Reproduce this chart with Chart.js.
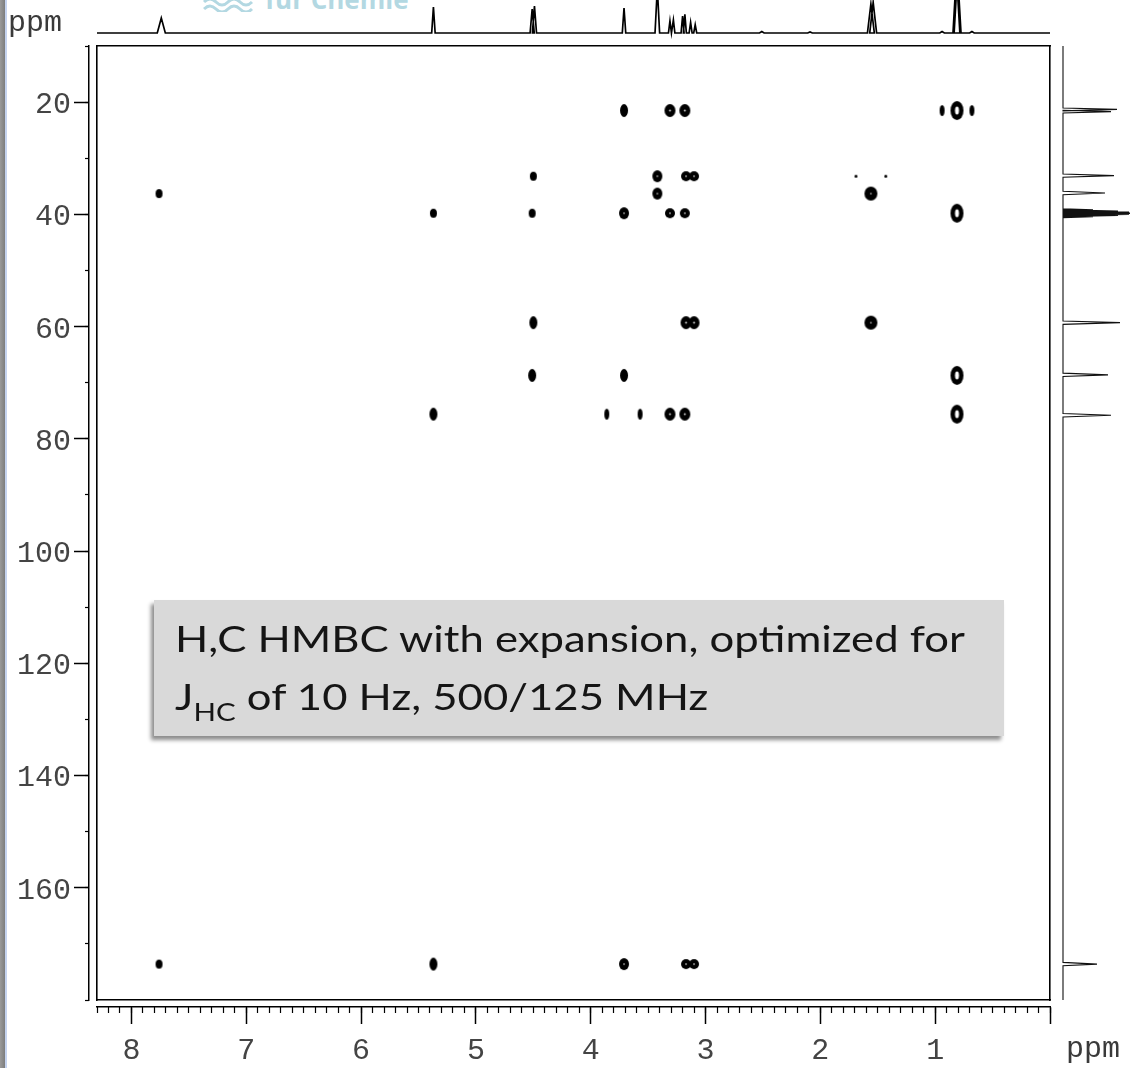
<!DOCTYPE html>
<html><head><meta charset="utf-8">
<script src="https://cdn.jsdelivr.net/npm/chart.js@4.4.1/dist/chart.umd.min.js"></script>
<style>
html,body{margin:0;padding:0;background:#fff;}
#wrap{position:relative;width:1130px;height:1068px;overflow:hidden;background:#fff;}
canvas{position:absolute;left:0;top:0;}
#stripe{position:absolute;left:0;top:0;width:5px;height:1068px;background:linear-gradient(90deg,#9a9a9a,#7d7d7d);}
#stripe2{position:absolute;left:5px;top:0;width:2px;height:1068px;background:#c5d3ef;}
.ppm{position:absolute;font-family:"Liberation Mono",monospace;font-size:30px;color:#3a3a3a;line-height:30px;white-space:nowrap;}
#logo{position:absolute;left:265px;top:-19px;font-family:"Open Sans",sans-serif;font-weight:700;font-size:26px;color:#b3d8e2;white-space:nowrap;}
#note{position:absolute;left:154px;top:600px;width:850px;height:136px;background:#d9d9d9;box-shadow:-3px 4px 4px rgba(0,0,0,0.45);}
.nl{position:absolute;left:21px;font-family:Lato,"Open Sans",sans-serif;font-size:37px;line-height:36px;color:#151515;white-space:nowrap;transform-origin:0 0;display:inline-block;}
.sub{font-size:25px;position:relative;top:11px;}
</style></head><body>
<div id="wrap">
  <div id="stripe"></div><div id="stripe2"></div>
  <svg style="position:absolute;left:203px;top:0" width="52" height="12"><path d="M1 2 q6 -6 12 0 t12 0 t12 0 t12 0" stroke="#b3d8e2" stroke-width="3" fill="none"/><path d="M1 9 q6 -6 12 0 t12 0 t12 0 t12 0" stroke="#b3d8e2" stroke-width="3" fill="none"/></svg>
  <div id="logo">für Chemie</div>
  <canvas id="topc" width="1130" height="1068"></canvas>
  <canvas id="rightc" width="1130" height="1068"></canvas>
  <canvas id="mainc" width="1130" height="1068"></canvas>
  <div class="ppm" style="left:8px;top:8px">ppm</div>
  <div class="ppm" style="left:1066px;top:1034px">ppm</div>
  <div id="note">
    <span class="nl" id="l1" style="top:20px">H,C HMBC with expansion, optimized for</span>
    <span class="nl" id="l2" style="top:78px">J<span class="sub">HC</span> of 10 Hz, 500/125 MHz</span>
  </div>
</div>
<script>
// ---- axis tick labels ----
const xTickLabels = [8, 7, 6, 5, 4, 3, 2, 1];
const yTickLabels = [20, 40, 60, 80, 100, 120, 140, 160];

// ---- HMBC cross peaks (1H ppm, 13C ppm), grouped by contour look ----
const tallH = [3.71, 3.71, 5.37, 4.50, 4.51, 5.37];
const tallC = [21.5, 68.7, 75.6, 59.3, 68.7, 173.6];
const midH = [3.42, 3.42, 3.71, 3.71];
const midC = [33.2, 36.3, 39.8, 173.6];
const smallH = [4.50, 7.76, 5.37, 4.51, 7.76];
const smallC = [33.2, 36.3, 39.8, 39.8, 173.6];
const thinH = [3.86, 3.57, 0.94, 0.68];
const thinC = [75.6, 75.6, 21.5, 21.5];
const pairH = [3.31, 3.18, 3.31, 3.18, 3.17, 3.10];
const pairC = [21.5, 21.5, 75.6, 75.6, 59.3, 59.3];
const pairSmallH = [3.17, 3.10, 3.31, 3.18, 3.17, 3.10];
const pairSmallC = [33.2, 33.2, 39.8, 39.8, 173.6, 173.6];
const ringH = [0.81, 0.81, 0.81, 0.81];
const ringC = [21.5, 39.8, 68.7, 75.6];
const roundH = [1.56, 1.56];
const roundC = [36.3, 59.3];
const dotH = [1.69, 1.43];
const dotC = [33.2, 33.2];

// ---- 1H projection (top): peak ppm, intensity, half base width (ppm) ----
const h1Ppm = [7.74, 5.37, 4.51, 4.49, 3.71, 3.42, 3.31, 3.28, 3.20, 3.18, 3.13, 3.09, 2.51, 2.09, 1.56, 1.54, 0.94, 0.815, 0.805, 0.68];
const h1Int = [15, 26, 24, 27, 25, 45, 12, 13, 17, 18.6, 10.6, 8.3, 1.5, 1, 29, 30.6, 1.5, 60, 60, 1.5];
const h1Hw  = [0.035, 0.015, 0.018, 0.018, 0.015, 0.02, 0.013, 0.013, 0.013, 0.013, 0.013, 0.013, 0.02, 0.02, 0.03, 0.03, 0.02, 0.03, 0.03, 0.02];

// ---- 13C projection (right): peak ppm, intensity, half base width (ppm) ----
const c13Ppm = [21.3, 21.7, 33.1, 36.2, 39.2, 39.4, 39.6, 39.8, 40.0, 40.2, 40.4, 59.3, 68.6, 75.8, 173.6];
const c13Int = [54, 48, 51, 42, 30, 55, 66, 80, 66, 55, 30, 57, 45, 48, 34];
const c13Hw  = [0.25, 0.25, 0.3, 0.3, 0.2, 0.2, 0.2, 0.2, 0.2, 0.2, 0.2, 0.3, 0.3, 0.3, 0.3];

const MONO = '"Liberation Mono", monospace';
const H_MIN = 0, H_MAX = 8.3, C_MIN = 10, C_MAX = 180;

function blob(w, h, hw, hh) {
  const c = document.createElement('canvas');
  c.width = w + 2; c.height = h + 2;
  const g = c.getContext('2d');
  g.fillStyle = '#000';
  g.beginPath(); g.ellipse(c.width / 2, c.height / 2, w / 2, h / 2, 0, 0, Math.PI * 2); g.fill();
  if (hw) {
    g.fillStyle = '#fff';
    g.beginPath(); g.ellipse(c.width / 2, c.height / 2, hw / 2, hh / 2, 0, 0, Math.PI * 2); g.fill();
  }
  return c;
}
const pts = (H, C) => H.map((h, i) => ({x: h, y: C[i]}));
const groups = [
  [tallH, tallC, blob(8, 13)],
  [midH, midC, blob(10, 12, 1.5, 1.5)],
  [smallH, smallC, blob(7, 9)],
  [thinH, thinC, blob(5, 11)],
  [pairH, pairC, blob(11, 13, 1.6, 2)],
  [pairSmallH, pairSmallC, blob(10, 10, 1.6, 1.6)],
  [ringH, ringC, blob(13, 19, 4, 8)],
  [roundH, roundC, blob(13, 14, 1.5, 1.5)],
  [dotH, dotC, blob(3, 3)]
];

function gapAxis(pos, weight, size, isX) {
  return {
    type: 'linear', display: true, position: pos, weight,
    min: isX ? H_MIN : C_MIN, max: isX ? H_MAX : C_MAX, reverse: true,
    grid: {display: false, drawOnChartArea: false, drawTicks: false},
    border: {display: true, color: '#000', width: 1.6},
    ticks: {display: false},
    afterFit: s => { if (isX) s.height = size; else s.width = size; }
  };
}

new Chart(document.getElementById('mainc'), {
  type: 'scatter',
  data: {datasets: groups.map(g => ({data: pts(g[0], g[1]), pointStyle: g[2], pointRadius: 6, pointHoverRadius: 6}))},
  options: {
    responsive: false, animation: false, events: [],
    plugins: {legend: {display: false}, tooltip: {enabled: false}},
    layout: {padding: {left: 0, right: 80, top: 46, bottom: 0}},
    scales: {
      x: {
        type: 'linear', position: 'bottom', weight: 2, min: H_MIN, max: H_MAX, reverse: true,
        afterBuildTicks: s => { s.ticks = [0, ...xTickLabels].sort((a, b) => a - b).map(v => ({value: v})); },
        grid: {display: true, drawOnChartArea: false, drawTicks: true, tickLength: 17, tickWidth: 1.5, tickColor: '#000'},
        border: {display: true, color: '#000', width: 1.5},
        ticks: {autoSkip: false, maxRotation: 0, padding: 9, color: '#444', font: {family: MONO, size: 30},
          callback: v => xTickLabels.includes(v) ? String(v) : ''},
        afterFit: s => { s.height = 61; }
      },
      xMinor: {
        type: 'linear', display: true, position: 'bottom', weight: 1, min: H_MIN, max: H_MAX, reverse: true,
        grid: {display: true, drawOnChartArea: false, drawTicks: true, tickLength: 6, tickWidth: 1.2, tickColor: '#000'},
        border: {display: false},
        ticks: {display: false, stepSize: 0.1},
        afterFit: s => { s.height = 0; }
      },
      xGap: gapAxis('bottom', 0, 7, true),
      xTop: gapAxis('top', 0, 0, true),
      y: {
        type: 'linear', position: 'left', weight: 2, min: C_MIN, max: C_MAX, reverse: true,
        afterBuildTicks: s => { s.ticks = yTickLabels.map(v => ({value: v})); },
        grid: {display: true, drawOnChartArea: false, drawTicks: true, tickLength: 15, tickWidth: 1.5, tickColor: '#000'},
        border: {display: true, color: '#000', width: 1.5},
        ticks: {autoSkip: false, padding: 3, labelOffset: 3, color: '#444', font: {family: MONO, size: 30},
          callback: v => String(v)},
        afterFit: s => { s.width = 89; }
      },
      yMinor: {
        type: 'linear', display: true, position: 'left', weight: 1, min: C_MIN, max: C_MAX, reverse: true,
        grid: {display: true, drawOnChartArea: false, drawTicks: true, tickLength: 4, tickWidth: 1.2, tickColor: '#000'},
        border: {display: false},
        ticks: {display: false, stepSize: 10},
        afterFit: s => { s.width = 0; }
      },
      yGap: gapAxis('left', 0, 8, false),
      yRight: gapAxis('right', 0, 0, false)
    }
  }
});

// ---- 1D projections ----
function stick(ppm, ints, hws) {
  const out = [];
  ppm.forEach((p, i) => {
    out.push([p + hws[i], 0], [p, ints[i]], [p - hws[i], 0]);
  });
  return out;
}
const topPts = [[H_MAX, 0], ...stick(h1Ppm, h1Int, h1Hw), [H_MIN, 0]].map(a => ({x: a[0], y: a[1]}));
new Chart(document.getElementById('topc'), {
  type: 'scatter',
  data: {datasets: [{data: topPts, showLine: true, borderColor: '#000', borderWidth: 1.7, pointRadius: 0, tension: 0, clip: false}]},
  options: {
    responsive: false, animation: false, events: [],
    plugins: {legend: {display: false}, tooltip: {enabled: false}},
    layout: {padding: {left: 97, right: 80, top: 0, bottom: 1035}},
    scales: {
      x: {type: 'linear', display: false, min: H_MIN, max: H_MAX, reverse: true},
      y: {type: 'linear', display: false, min: 0, max: 33}
    }
  }
});

const rightPts = [[C_MIN, 0], ...stick(c13Ppm, c13Int, c13Hw.map(v => -v)), [C_MAX, 0]].map(a => ({x: a[1], y: a[0]}));
new Chart(document.getElementById('rightc'), {
  type: 'scatter',
  data: {datasets: [{data: rightPts, showLine: true, borderColor: '#111', borderWidth: 1.1, pointRadius: 0, tension: 0, clip: false}]},
  options: {
    responsive: false, animation: false, events: [],
    plugins: {legend: {display: false}, tooltip: {enabled: false}},
    layout: {padding: {left: 1063, right: 0, top: 46, bottom: 68}},
    scales: {
      x: {type: 'linear', display: false, min: 0, max: 67},
      y: {type: 'linear', display: false, min: C_MIN, max: C_MAX, reverse: true}
    }
  }
});

// ---- fit annotation text width ----
function fitNote() {
  const l1 = document.getElementById('l1');
  const l2 = document.getElementById('l2');
  l1.style.transform = 'none'; l2.style.transform = 'none';
  const k = 790 / l1.getBoundingClientRect().width;
  l1.style.transform = 'scaleX(' + k + ')';
  l2.style.transform = 'scaleX(' + k + ')';
}
fitNote();
if (document.fonts && document.fonts.ready) document.fonts.ready.then(fitNote);
</script>
</body></html>
